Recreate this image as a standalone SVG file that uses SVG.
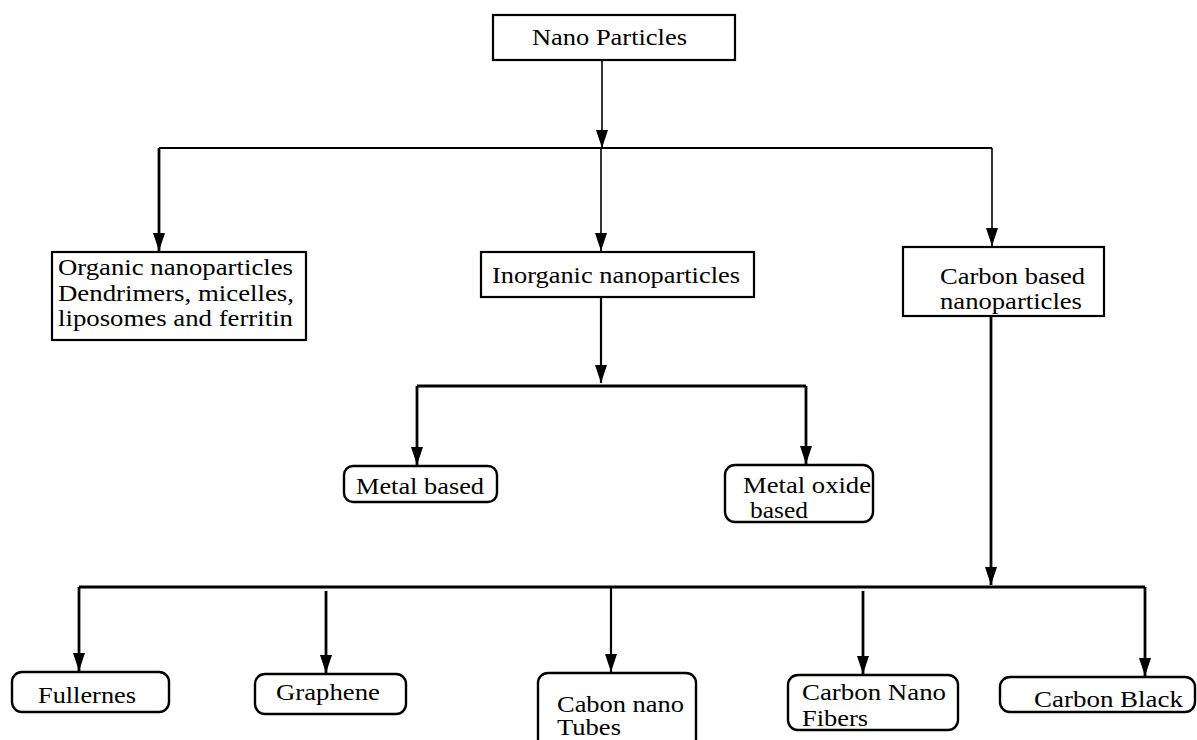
<svg xmlns="http://www.w3.org/2000/svg" width="1197" height="740" viewBox="0 0 1197 740">
<style>
  .box { fill: #fff; stroke: #000; stroke-width: 2.2; }
  .rbox { fill: #fff; stroke: #000; stroke-width: 2.4; }
  .t { font-family: "Liberation Serif", "Times New Roman", serif; font-size: 23px; fill: #000; }
  .c { fill: none; stroke: #000; stroke-width: 2.2; }
  .thin { stroke-width: 1.6; }
  .thick { stroke-width: 2.8; }
</style>
<defs>
  <marker id="ah" markerUnits="userSpaceOnUse" viewBox="0 0 18 12" refX="18" refY="6" markerWidth="18" markerHeight="12" orient="auto">
    <path d="M0,0 L18,6 L0,12 Z" fill="#000"/>
  </marker>
</defs>
<rect width="1197" height="740" fill="#fff"/>
<g id="connectors">
  <line class="c thin" x1="602" y1="60" x2="602" y2="148" marker-end="url(#ah)"/>
  <line class="c" x1="159" y1="148" x2="992" y2="148"/>
  <line class="c thick" x1="159" y1="148" x2="159" y2="251" marker-end="url(#ah)"/>
  <line class="c thin" x1="601" y1="148" x2="601" y2="251" marker-end="url(#ah)"/>
  <line class="c thin" x1="992" y1="148" x2="992" y2="246" marker-end="url(#ah)"/>
  <line class="c" x1="601" y1="297" x2="601" y2="383" marker-end="url(#ah)"/>
  <line class="c thick" x1="417" y1="386" x2="806" y2="386"/>
  <line class="c thick" x1="417" y1="386" x2="417" y2="465" marker-end="url(#ah)"/>
  <line class="c thick" x1="806" y1="386" x2="806" y2="464" marker-end="url(#ah)"/>
  <line class="c thick" x1="991" y1="316" x2="991" y2="585" marker-end="url(#ah)"/>
  <line class="c thick" x1="79" y1="587" x2="1145" y2="587"/>
  <line class="c thick" x1="79" y1="587" x2="79" y2="671" marker-end="url(#ah)"/>
  <line class="c thick" x1="326" y1="591" x2="326" y2="673" marker-end="url(#ah)"/>
  <line class="c" x1="611" y1="587" x2="611" y2="672" marker-end="url(#ah)"/>
  <line class="c thick" x1="863" y1="591" x2="863" y2="674" marker-end="url(#ah)"/>
  <line class="c thick" x1="1145" y1="587" x2="1145" y2="676" marker-end="url(#ah)"/>
</g>
<g id="nano-particles">
  <rect class="box" x="493" y="15" width="242" height="45"/>
  <text class="t" x="532" y="45" textLength="155" lengthAdjust="spacingAndGlyphs">Nano Particles</text>
</g>
<g id="organic">
  <rect class="box" x="52" y="252" width="254" height="88"/>
  <text class="t" x="58" y="275" textLength="235" lengthAdjust="spacingAndGlyphs">Organic nanoparticles</text>
  <text class="t" x="58" y="301" textLength="236" lengthAdjust="spacingAndGlyphs">Dendrimers, micelles,</text>
  <text class="t" x="58" y="326" textLength="235" lengthAdjust="spacingAndGlyphs">liposomes and ferritin</text>
</g>
<g id="inorganic">
  <rect class="box" x="481" y="252" width="273" height="45"/>
  <text class="t" x="492" y="283" textLength="248" lengthAdjust="spacingAndGlyphs">Inorganic nanoparticles</text>
</g>
<g id="carbon-based">
  <rect class="box" x="903" y="247" width="201" height="69"/>
  <text class="t" x="940" y="284" textLength="145" lengthAdjust="spacingAndGlyphs">Carbon based</text>
  <text class="t" x="940" y="309" textLength="142" lengthAdjust="spacingAndGlyphs">nanoparticles</text>
</g>
<g id="metal-based">
  <rect class="rbox" x="344" y="466" width="153" height="36" rx="9"/>
  <text class="t" x="356" y="494" textLength="128" lengthAdjust="spacingAndGlyphs">Metal based</text>
</g>
<g id="metal-oxide">
  <rect class="rbox" x="725" y="465" width="148" height="57" rx="10"/>
  <text class="t" x="743" y="493" textLength="128" lengthAdjust="spacingAndGlyphs">Metal oxide</text>
  <text class="t" x="750" y="518" textLength="58" lengthAdjust="spacingAndGlyphs">based</text>
</g>
<g id="fullernes">
  <rect class="rbox" x="12" y="672" width="157" height="40" rx="10"/>
  <text class="t" x="38" y="703" textLength="98" lengthAdjust="spacingAndGlyphs">Fullernes</text>
</g>
<g id="graphene">
  <rect class="rbox" x="255" y="674" width="151" height="40" rx="10"/>
  <text class="t" x="276" y="700" textLength="104" lengthAdjust="spacingAndGlyphs">Graphene</text>
</g>
<g id="carbon-nano-tubes">
  <rect class="rbox" x="538" y="673" width="158" height="80" rx="10"/>
  <text class="t" x="557" y="712" textLength="127" lengthAdjust="spacingAndGlyphs">Cabon nano</text>
  <text class="t" x="557" y="735" textLength="64" lengthAdjust="spacingAndGlyphs">Tubes</text>
</g>
<g id="carbon-nano-fibers">
  <rect class="rbox" x="788" y="675" width="170" height="55" rx="10"/>
  <text class="t" x="802" y="700" textLength="144" lengthAdjust="spacingAndGlyphs">Carbon Nano</text>
  <text class="t" x="802" y="726" textLength="66" lengthAdjust="spacingAndGlyphs">Fibers</text>
</g>
<g id="carbon-black">
  <rect class="rbox" x="1000" y="677" width="195" height="35" rx="10"/>
  <text class="t" x="1034" y="707" textLength="149" lengthAdjust="spacingAndGlyphs">Carbon Black</text>
</g>
</svg>
